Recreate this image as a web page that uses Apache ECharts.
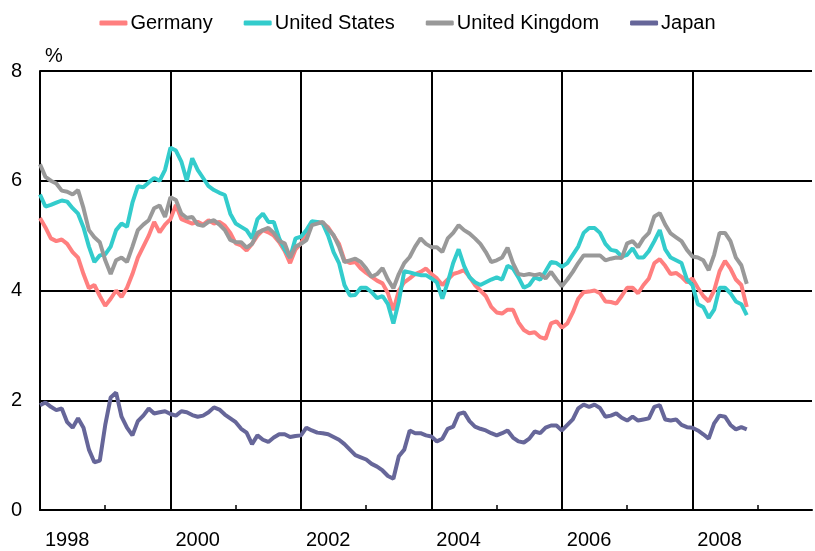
<!DOCTYPE html>
<html>
<head>
<meta charset="utf-8">
<title>Long-term interest rates</title>
<script src="https://cdn.jsdelivr.net/npm/echarts@6/dist/echarts.min.js"></script>
<style>
  html, body { margin: 0; padding: 0; background: #fff; }
  #chart { width: 815px; height: 551px; }
</style>
</head>
<body>
<div id="chart"></div>
<script>
// monthly, Jan 1998 .. Nov 2009 (axis runs past the last data point)
var months = [];
for (var i = 0; i < 143; i++) {
  var m = (i % 12) + 1;
  months.push((1998 + Math.floor(i / 12)) + "-" + (m < 10 ? "0" + m : m));
}
var yearLabels = ["1998", "2000", "2002", "2004", "2006", "2008"];

// values, Jan 1998 .. Nov 2008
var germany = [
  5.32, 5.15, 4.95, 4.90, 4.93, 4.85, 4.70, 4.60, 4.30, 4.04, 4.10, 3.90,
  3.72, 3.85, 4.00, 3.88, 4.05, 4.30, 4.60, 4.80, 5.00, 5.25, 5.06, 5.20,
  5.30, 5.56, 5.30, 5.26, 5.22, 5.25, 5.20, 5.28, 5.22, 5.25, 5.18, 5.05,
  4.86, 4.82, 4.73, 4.85, 5.00, 5.10, 5.06, 5.00, 4.88, 4.72, 4.50, 4.75,
  4.86, 5.05, 5.23, 5.25, 5.23, 5.15, 5.00, 4.85, 4.55, 4.50, 4.52, 4.40,
  4.32, 4.25, 4.18, 4.13, 3.95, 3.64, 4.00, 4.15, 4.22, 4.30, 4.34, 4.40,
  4.30, 4.22, 4.10, 4.20, 4.30, 4.33, 4.37, 4.25, 4.10, 4.00, 3.90, 3.70,
  3.60, 3.58, 3.65, 3.65, 3.42, 3.28, 3.22, 3.24, 3.15, 3.12, 3.40, 3.44,
  3.32, 3.40, 3.60, 3.85, 3.97, 3.98, 4.00, 3.95, 3.80, 3.79, 3.76, 3.90,
  4.05, 4.05, 3.95, 4.10, 4.22, 4.50, 4.57, 4.45, 4.30, 4.32, 4.25, 4.15,
  4.22, 4.05, 3.90, 3.80, 4.00, 4.35, 4.54, 4.40, 4.20, 4.10, 3.70
];
var unitedStates = [
  5.75, 5.53, 5.56, 5.60, 5.64, 5.62, 5.50, 5.40, 5.15, 4.80, 4.52, 4.64,
  4.66, 4.80, 5.10, 5.22, 5.16, 5.60, 5.90, 5.88, 5.97, 6.05, 6.00, 6.20,
  6.60, 6.55, 6.35, 6.00, 6.41, 6.20, 6.05, 5.90, 5.83, 5.78, 5.74, 5.40,
  5.22, 5.16, 5.10, 4.95, 5.30, 5.40, 5.25, 5.25, 4.95, 4.75, 4.60, 4.95,
  4.98, 5.10, 5.26, 5.25, 5.22, 5.00, 4.70, 4.50, 4.10, 3.91, 3.92, 4.05,
  4.05, 3.97, 3.86, 3.90, 3.75, 3.40, 3.80, 4.35, 4.33, 4.30, 4.28, 4.28,
  4.22, 4.15, 3.85, 4.15, 4.50, 4.75, 4.45, 4.24, 4.15, 4.10, 4.15, 4.20,
  4.24, 4.20, 4.45, 4.40, 4.24, 4.05, 4.10, 4.24, 4.20, 4.35, 4.52, 4.50,
  4.43, 4.50, 4.65, 4.80, 5.05, 5.14, 5.14, 5.05, 4.85, 4.74, 4.72, 4.62,
  4.65, 4.77, 4.60, 4.60, 4.72, 4.90, 5.10, 4.75, 4.60, 4.55, 4.50, 4.20,
  4.10, 3.75, 3.70, 3.50, 3.65, 4.05, 4.05, 3.95, 3.80, 3.75, 3.55
];
var unitedKingdom = [
  6.30, 6.07, 6.00, 5.95, 5.82, 5.80, 5.75, 5.83, 5.50, 5.10, 4.97, 4.88,
  4.55, 4.30, 4.55, 4.60, 4.52, 4.80, 5.10, 5.20, 5.28, 5.50, 5.55, 5.34,
  5.70, 5.65, 5.40, 5.32, 5.34, 5.20, 5.18, 5.25, 5.28, 5.20, 5.10, 4.92,
  4.88, 4.88, 4.78, 4.85, 5.05, 5.10, 5.14, 5.05, 4.90, 4.86, 4.60, 4.80,
  4.85, 4.92, 5.19, 5.22, 5.25, 5.12, 5.01, 4.80, 4.52, 4.55, 4.58, 4.52,
  4.40, 4.25, 4.30, 4.41, 4.20, 4.04, 4.30, 4.50, 4.61, 4.80, 4.95, 4.85,
  4.79, 4.79, 4.70, 4.95, 5.05, 5.19, 5.10, 5.04, 4.95, 4.85, 4.70, 4.52,
  4.55, 4.60, 4.78, 4.50, 4.30, 4.28, 4.30, 4.28, 4.30, 4.22, 4.34, 4.20,
  4.08, 4.20, 4.34, 4.50, 4.64, 4.64, 4.64, 4.64, 4.55, 4.58, 4.60, 4.59,
  4.86, 4.90, 4.79, 4.95, 5.05, 5.35, 5.41, 5.20, 5.04, 4.97, 4.90, 4.74,
  4.62, 4.60, 4.55, 4.37, 4.65, 5.05, 5.05, 4.90, 4.60, 4.46, 4.12
];
var japan = [
  1.91, 1.96, 1.88, 1.82, 1.85, 1.60, 1.50, 1.67, 1.50, 1.10, 0.87, 0.90,
  1.55, 2.05, 2.14, 1.70, 1.50, 1.36, 1.62, 1.72, 1.85, 1.76, 1.78, 1.80,
  1.75, 1.72, 1.80, 1.78, 1.73, 1.70, 1.72, 1.78, 1.87, 1.83, 1.74, 1.67,
  1.60, 1.48, 1.41, 1.20, 1.36, 1.28, 1.24, 1.32, 1.38, 1.38, 1.33, 1.35,
  1.36, 1.50, 1.45, 1.41, 1.40, 1.38, 1.33, 1.28, 1.20, 1.10, 1.00, 0.96,
  0.92, 0.84, 0.79, 0.72, 0.62, 0.57, 0.98, 1.10, 1.45, 1.40, 1.40, 1.36,
  1.34, 1.25, 1.30, 1.48, 1.52, 1.75, 1.78, 1.62, 1.52, 1.48, 1.45, 1.40,
  1.36, 1.40, 1.45, 1.32, 1.25, 1.23, 1.30, 1.43, 1.40, 1.50, 1.54, 1.54,
  1.45, 1.55, 1.65, 1.85, 1.92, 1.88, 1.92, 1.86, 1.70, 1.72, 1.76, 1.68,
  1.63, 1.70, 1.63, 1.65, 1.67, 1.88, 1.91, 1.65, 1.63, 1.65, 1.55, 1.51,
  1.50, 1.45, 1.38, 1.30, 1.58, 1.72, 1.70, 1.55, 1.47, 1.51, 1.47
];

var font = "'Liberation Sans', Arial, sans-serif";

function line(name, data, color) {
  return {
    name: name,
    type: "line",
    data: data,
    symbol: "none",
    lineStyle: { color: color, width: 4 },
    itemStyle: { color: color },
  };
}

var myChart = echarts.init(document.getElementById("chart"));
var option = {
  animation: false,
  backgroundColor: "#fff",
  textStyle: { fontFamily: font },
  legend: {
    top: 8,
    left: "center",
    icon: "roundRect",
    itemWidth: 28,
    itemHeight: 5,
    itemGap: 31,
    textStyle: { fontSize: 20, color: "#000", fontFamily: font, padding: [0, 0, 0, -2] },
    data: ["Germany", "United States", "United Kingdom", "Japan"],
  },
  grid: { left: 40, right: 3, top: 71, bottom: 41 },
  xAxis: {
    type: "category",
    data: months,
    boundaryGap: false,
    axisLine: { lineStyle: { color: "#000", width: 2 } },
    axisTick: {
      inside: true,
      length: 5,
      interval: function (index) { return index % 12 === 0; },
      lineStyle: { color: "#000", width: 1.5 },
    },
    splitLine: {
      show: true,
      interval: function (index) { return index % 24 === 0; },
      lineStyle: { color: "#000", width: 2 },
    },
    axisLabel: {
      interval: function (index, value) {
        return index % 24 === 5 && yearLabels.indexOf(value.slice(0, 4)) >= 0;
      },
      formatter: function (value) { return value.slice(0, 4); },
      margin: 20,
      fontSize: 20,
      color: "#000",
      fontFamily: font,
    },
  },
  yAxis: {
    type: "value",
    min: 0,
    max: 8,
    interval: 2,
    name: "%",
    nameGap: 5,
    nameTextStyle: { fontSize: 20, color: "#000", fontFamily: font, align: "left", padding: [0, 0, 0, 5] },
    axisLine: { show: true, lineStyle: { color: "#000", width: 2 } },
    axisTick: { show: false },
    splitLine: { lineStyle: { color: "#000", width: 2 } },
    axisLabel: { margin: 18, fontSize: 20, color: "#000", fontFamily: font },
  },
  series: [
    line("Germany", germany, "#ff7f7f"),
    line("United States", unitedStates, "#33cccc"),
    line("United Kingdom", unitedKingdom, "#999999"),
    line("Japan", japan, "#666699"),
  ],
};

option && myChart.setOption(option);
</script>
</body>
</html>
